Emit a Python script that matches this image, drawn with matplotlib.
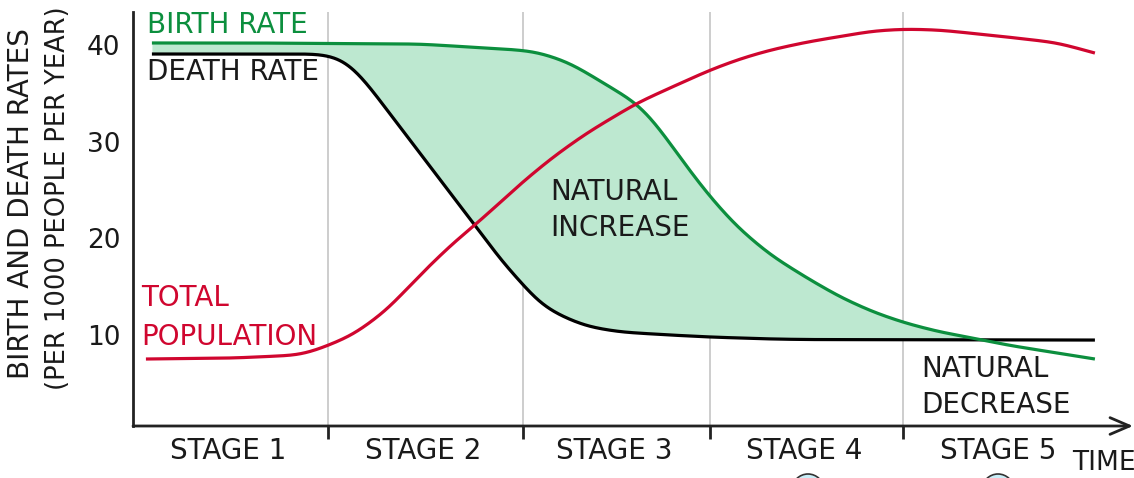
import numpy as np
import matplotlib
matplotlib.use("Agg")
import matplotlib.pyplot as plt
from matplotlib.patches import Ellipse

# ---- data (time in stage units, rates per 1000 people per year) ----
birth_t = [0.098, 0.606, 1.487, 2.005, 2.093, 2.176, 2.264, 2.352, 2.523, 2.611, 2.694,
           2.782, 2.870, 2.990, 3.130, 3.301, 3.492, 3.663, 3.834, 4.000, 4.181, 4.352,
           4.528, 4.788, 4.984]
birth_v = [40.19, 40.19, 40.08, 39.46, 39.26, 38.74, 38.12, 37.09, 35.02, 33.99, 32.23,
           29.86, 27.38, 24.28, 21.18, 18.30, 15.91, 13.95, 12.40, 11.26, 10.33, 9.71,
           8.99, 8.16, 7.54]

death_t = [0.098, 0.606, 0.969, 1.073, 1.140, 1.228, 1.316, 1.487, 1.658, 1.772, 1.917,
           2.005, 2.093, 2.176, 2.264, 2.352, 2.523, 2.782, 2.990, 3.301, 3.492, 4.984]
death_v = [39.05, 39.05, 39.05, 38.64, 37.71, 35.64, 33.26, 28.82, 24.28, 21.38, 17.46,
           15.60, 13.50, 12.40, 11.60, 10.90, 10.33, 10.02, 9.81, 9.61, 9.55, 9.50]

pop_t = [0.067, 0.518, 0.865, 0.969, 1.140, 1.316, 1.487, 1.658, 1.772, 1.917, 2.005,
         2.176, 2.352, 2.611, 2.782, 2.990, 3.145, 3.301, 3.492, 3.834, 4.000, 4.181,
         4.528, 4.788, 4.984]
pop_v = [7.54, 7.64, 7.95, 8.60, 10.02, 12.60, 16.22, 19.52, 21.38, 23.97, 25.60,
         28.41, 30.90, 33.99, 35.54, 37.40, 38.55, 39.46, 40.29, 41.43, 41.63, 41.53,
         40.81, 40.22, 39.15]

stage_bounds = [1.01, 2.02, 2.99, 3.99]
stage_labels = ["STAGE 1", "STAGE 2", "STAGE 3", "STAGE 4", "STAGE 5"]
y_ticks = [10, 20, 30, 40]

GREEN = "#0c8f3e"
RED = "#d0062f"
FILL = "#bde8d0"
INK = "#1a1a1a"
FONT = "DejaVu Sans"


def smooth_line(x, y, xs, sigma=0.06):
    """draw a smooth line through the read points: piecewise-linear, then Gaussian-smoothed"""
    x = np.asarray(x, float); y = np.asarray(y, float)
    step = xs[1] - xs[0]
    npad = int(4 * sigma / step) + 1
    s0 = (y[1] - y[0]) / (x[1] - x[0]); s1 = (y[-1] - y[-2]) / (x[-1] - x[-2])
    left = xs[0] - step * np.arange(npad, 0, -1)
    right = xs[-1] + step * np.arange(1, npad + 1)
    xx = np.concatenate([left, xs, right])
    yy = np.interp(xx, x, y)
    yy[:npad] = y[0] + s0 * (left - x[0])
    yy[-npad:] = y[-1] + s1 * (right - x[-1])
    k = np.arange(-npad, npad + 1) * step
    g = np.exp(-0.5 * (k / sigma) ** 2); g /= g.sum()
    return np.convolve(yy, g, mode="same")[npad:-npad]


W, H = 1134, 478
fig = plt.figure(figsize=(W / 100, H / 100), dpi=100)
ax = fig.add_axes([133 / W, (H - 426) / H, 1000 / W, 414 / H])
ax.set_xlim(0, 1000 / 193)
ax.set_ylim(0.62, 43.39)


def ftext(px, py, s, **kw):
    return fig.text(px / W, 1 - py / H, s, family=FONT, **kw)


# stage grid lines
for b in stage_bounds:
    ax.axvline(b, color="#c9c9c9", lw=1.3, zorder=1)

tt = np.linspace(birth_t[0], birth_t[-1], 1000)
gb = smooth_line(birth_t, birth_v, tt)
db = smooth_line(death_t, death_v, tt)
ax.fill_between(tt, db, gb, where=gb >= db, interpolate=True, color=FILL, lw=0, zorder=2)

ax.plot(tt, gb, color=GREEN, lw=2.3, zorder=4, solid_capstyle="butt")
ax.plot(tt, db, color="black", lw=2.3, zorder=3, solid_capstyle="butt")
tp = np.linspace(pop_t[0], pop_t[-1], 1000)
ax.plot(tp, smooth_line(pop_t, pop_v, tp), color=RED, lw=2.3, zorder=5, solid_capstyle="butt")

# axes styling
for s in ["top", "right", "bottom"]:
    ax.spines[s].set_visible(False)
ax.spines["left"].set_color("#222222")
ax.spines["left"].set_linewidth(2)
ax.set_yticks(y_ticks)
ax.set_yticklabels([str(v) for v in y_ticks], fontsize=19, family=FONT, color=INK)
ax.tick_params(axis="y", length=0, pad=9)
ax.set_xticks(stage_bounds)
ax.set_xticklabels([])
ax.tick_params(axis="x", length=9, width=2, color="#222222", direction="out")

# x axis arrow
ax.annotate("", xy=(1000 / 193, 0.62), xytext=(0, 0.62), xycoords="data",
            arrowprops=dict(arrowstyle="->,head_length=1.4,head_width=0.6", lw=2,
                            color="#222222", shrinkA=0, shrinkB=0),
            annotation_clip=False, zorder=6)

# stage labels
edges = [0] + stage_bounds + [5.0]
for i, lab in enumerate(stage_labels):
    c = (edges[i] + edges[i + 1]) / 2
    px = 133 + 193 * c
    ftext(px - 2, 451, lab, ha="center", va="center", fontsize=20, color=INK)

ftext(1072, 463, "TIME", ha="left", va="center", fontsize=19, color=INK)

ftext(147, 25, "BIRTH RATE", color=GREEN, fontsize=20, ha="left", va="center")
ftext(147, 72, "DEATH RATE", color=INK, fontsize=20, ha="left", va="center")
ftext(141, 298, "TOTAL", color=RED, fontsize=20, ha="left", va="center")
ftext(141, 337, "POPULATION", color=RED, fontsize=20, ha="left", va="center")
ftext(550, 192, "NATURAL", color=INK, fontsize=20, ha="left", va="center", zorder=6)
ftext(550, 228, "INCREASE", color=INK, fontsize=20, ha="left", va="center", zorder=6)
ftext(921, 369, "NATURAL", color=INK, fontsize=20, ha="left", va="center", zorder=6)
ftext(921, 405, "DECREASE", color=INK, fontsize=20, ha="left", va="center", zorder=6)

# y axis label (two lines)
ftext(21, 204, "BIRTH AND DEATH RATES", rotation=90, ha="center", va="center",
      fontsize=20, color=INK)
ftext(58, 198, "(PER 1000 PEOPLE PER YEAR)", rotation=90, ha="center", va="center",
      fontsize=18.5, color=INK)

# partially visible icons at the bottom edge
for cx in [808, 998]:
    e = Ellipse((cx / W, 1 - 490 / H), 32 / W, 32 / H, transform=fig.transFigure,
                facecolor="#c9eef8", edgecolor="#333333", lw=1.2)
    fig.patches.append(e)

fig.savefig("out.png", dpi=100)
